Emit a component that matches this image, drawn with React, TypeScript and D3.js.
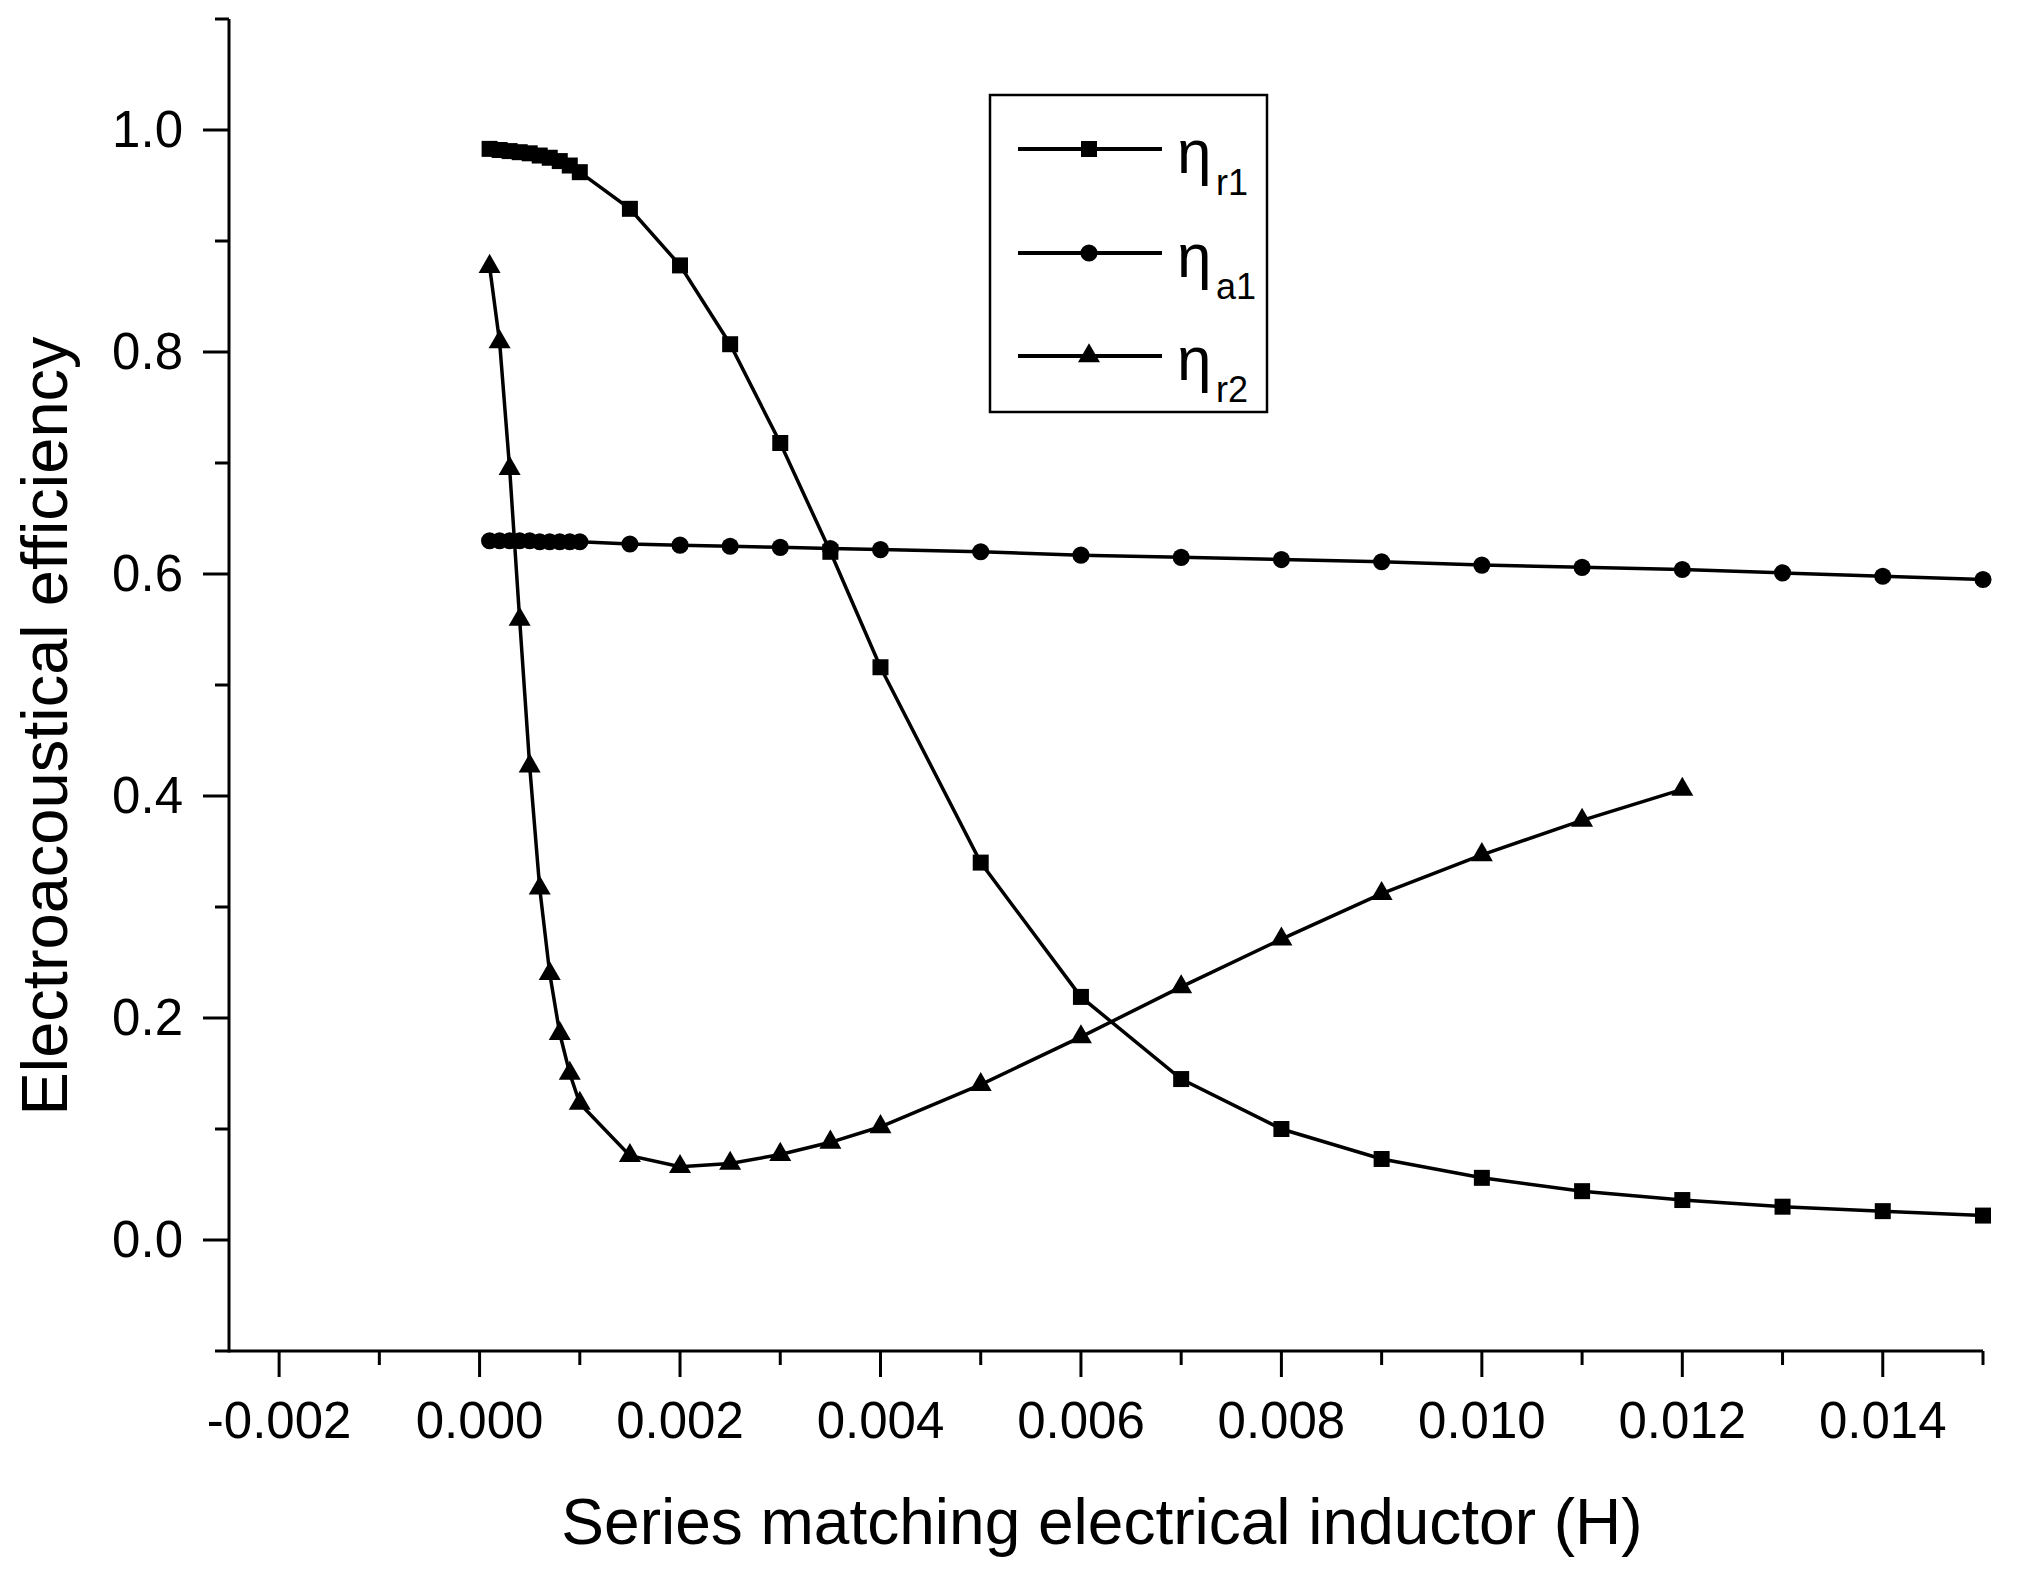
import React, { useEffect, useRef } from "react";
import * as d3 from "d3";

// x values (H) for each series
const xR1 = [
  0.0001, 0.0002, 0.0003, 0.0004, 0.0005, 0.0006, 0.0007, 0.0008, 0.0009, 0.001,
  0.0015, 0.002, 0.0025, 0.003, 0.0035, 0.004,
  0.005, 0.006, 0.007, 0.008, 0.009, 0.01, 0.011, 0.012, 0.013, 0.014, 0.015,
];
const yR1 = [
  0.983, 0.982, 0.981, 0.98, 0.979, 0.977, 0.975, 0.972, 0.968, 0.962,
  0.929, 0.878, 0.807, 0.718, 0.62, 0.516,
  0.34, 0.219, 0.145, 0.1, 0.073, 0.056, 0.044, 0.036, 0.03, 0.026, 0.022,
];

const xA1 = xR1;
const yA1 = [
  0.63, 0.63, 0.63, 0.63, 0.63, 0.629, 0.629, 0.629, 0.629, 0.629,
  0.627, 0.626, 0.625, 0.624, 0.623, 0.622,
  0.62, 0.617, 0.615, 0.613, 0.611, 0.608, 0.606, 0.604, 0.601, 0.598, 0.595,
];

const xR2 = [
  0.0001, 0.0002, 0.0003, 0.0004, 0.0005, 0.0006, 0.0007, 0.0008, 0.0009, 0.001,
  0.0015, 0.002, 0.0025, 0.003, 0.0035, 0.004,
  0.005, 0.006, 0.007, 0.008, 0.009, 0.01, 0.011, 0.012,
];
const yR2 = [
  0.877, 0.809, 0.695, 0.559, 0.427, 0.317, 0.24, 0.186, 0.15, 0.123,
  0.076, 0.066, 0.069, 0.077, 0.088, 0.102,
  0.14, 0.183, 0.228, 0.271, 0.312, 0.347, 0.378, 0.406,
];

const xMajor = [-0.002, 0, 0.002, 0.004, 0.006, 0.008, 0.01, 0.012, 0.014];
const xMinor = [-0.001, 0.001, 0.003, 0.005, 0.007, 0.009, 0.011, 0.013, 0.015];
const yMajor = [0, 0.2, 0.4, 0.6, 0.8, 1.0];
const yMinor = [-0.1, 0.1, 0.3, 0.5, 0.7, 0.9, 1.1];

const seriesNames = ["r1", "a1", "r2"];

const FONT = "'Liberation Sans', Arial, sans-serif";

export default function App() {
  const svgRef = useRef<SVGSVGElement>(null);
  const width = 2018;
  const height = 1572;

  useEffect(() => {
    if (!svgRef.current) return;
    const svg = d3.select(svgRef.current);
    svg.selectAll("*").remove();

    const x = d3.scaleLinear().domain([-0.0025, 0.015]).range([229, 1983]);
    const y = d3.scaleLinear().domain([-0.1, 1.1]).range([1351, 19]);

    const axisColor = "#000";
    const g = svg.append("g");

    // axis lines
    g.append("line")
      .attr("x1", x(-0.0025)).attr("x2", x(0.015))
      .attr("y1", y(-0.1)).attr("y2", y(-0.1))
      .attr("stroke", axisColor).attr("stroke-width", 3);
    g.append("line")
      .attr("x1", x(-0.0025)).attr("x2", x(-0.0025))
      .attr("y1", y(-0.1) + 1.5).attr("y2", y(1.1))
      .attr("stroke", axisColor).attr("stroke-width", 3);

    // x ticks
    g.selectAll(".xmaj").data(xMajor).enter().append("line")
      .attr("x1", (d) => x(d)).attr("x2", (d) => x(d))
      .attr("y1", y(-0.1)).attr("y2", y(-0.1) + 26)
      .attr("stroke", axisColor).attr("stroke-width", 3);
    g.selectAll(".xmin").data(xMinor).enter().append("line")
      .attr("x1", (d) => x(d)).attr("x2", (d) => x(d))
      .attr("y1", y(-0.1)).attr("y2", y(-0.1) + 14)
      .attr("stroke", axisColor).attr("stroke-width", 3);
    g.selectAll(".xlab").data(xMajor).enter().append("text")
      .attr("x", (d) => x(d)).attr("y", 1438)
      .attr("text-anchor", "middle")
      .style("font-family", FONT).style("font-size", "51px")
      .text((d) => d.toFixed(3));

    // y ticks
    g.selectAll(".ymaj").data(yMajor).enter().append("line")
      .attr("x1", x(-0.0025) - 26).attr("x2", x(-0.0025))
      .attr("y1", (d) => y(d)).attr("y2", (d) => y(d))
      .attr("stroke", axisColor).attr("stroke-width", 3);
    g.selectAll(".ymin").data(yMinor).enter().append("line")
      .attr("x1", x(-0.0025) - 14).attr("x2", x(-0.0025))
      .attr("y1", (d) => y(d)).attr("y2", (d) => y(d))
      .attr("stroke", axisColor).attr("stroke-width", 3);
    g.selectAll(".ylab").data(yMajor).enter().append("text")
      .attr("x", 183).attr("y", (d) => y(d) + 17)
      .attr("text-anchor", "end")
      .style("font-family", FONT).style("font-size", "51px")
      .text((d) => d.toFixed(1));

    // axis titles
    g.append("text")
      .attr("x", 1102).attr("y", 1544)
      .attr("text-anchor", "middle")
      .style("font-family", FONT).style("font-size", "64px")
      .text("Series matching electrical inductor (H)");
    g.append("text")
      .attr("transform", "translate(67,726) rotate(-90)")
      .attr("text-anchor", "middle")
      .style("font-family", FONT).style("font-size", "65px")
      .text("Electroacoustical efficiency");

    // series
    const line = d3.line<[number, number]>()
      .x((d) => x(d[0]))
      .y((d) => y(d[1]));

    const symbols = [
      d3.symbol().type(d3.symbolSquare).size(256),
      d3.symbol().type(d3.symbolCircle).size(230),
      d3.symbol().type(d3.symbolTriangle).size(210),
    ];

    const series: [number, number][][] = [
      xR1.map((v, i) => [v, yR1[i]]),
      xA1.map((v, i) => [v, yA1[i]]),
      xR2.map((v, i) => [v, yR2[i]]),
    ];

    series.forEach((pts, si) => {
      g.append("path")
        .attr("d", line(pts) || "")
        .attr("fill", "none")
        .attr("stroke", "#000")
        .attr("stroke-width", 3.5);
      g.selectAll(`.m${si}`).data(pts).enter().append("path")
        .attr("transform", (d) => `translate(${x(d[0])},${y(d[1])})`)
        .attr("d", symbols[si]() || "")
        .attr("fill", "#000");
    });

    // legend
    const lg = g.append("g");
    lg.append("rect")
      .attr("x", 990).attr("y", 95)
      .attr("width", 277).attr("height", 317)
      .attr("fill", "#fff").attr("stroke", "#000").attr("stroke-width", 2.5);
    const rowY = [149, 253, 356];
    seriesNames.forEach((name, i) => {
      const ry = rowY[i];
      lg.append("line")
        .attr("x1", 1018).attr("x2", 1162)
        .attr("y1", ry).attr("y2", ry)
        .attr("stroke", "#000").attr("stroke-width", 4);
      lg.append("path")
        .attr("transform", `translate(1089,${ry})`)
        .attr("d", symbols[i]() || "")
        .attr("fill", "#000");
      lg.append("text")
        .attr("x", 1177).attr("y", ry + 24)
        .style("font-family", FONT).style("font-size", "62px")
        .text("\u03b7");
      lg.append("text")
        .attr("x", 1216).attr("y", ry + 46)
        .style("font-family", FONT).style("font-size", "36px")
        .text(name);
    });

    return () => {
      svg.selectAll("*").remove();
    };
  }, []);

  return (
    <svg
      ref={svgRef}
      width={width}
      height={height}
      style={{ position: "fixed", left: 0, top: 0, background: "#fff" }}
    />
  );
}
